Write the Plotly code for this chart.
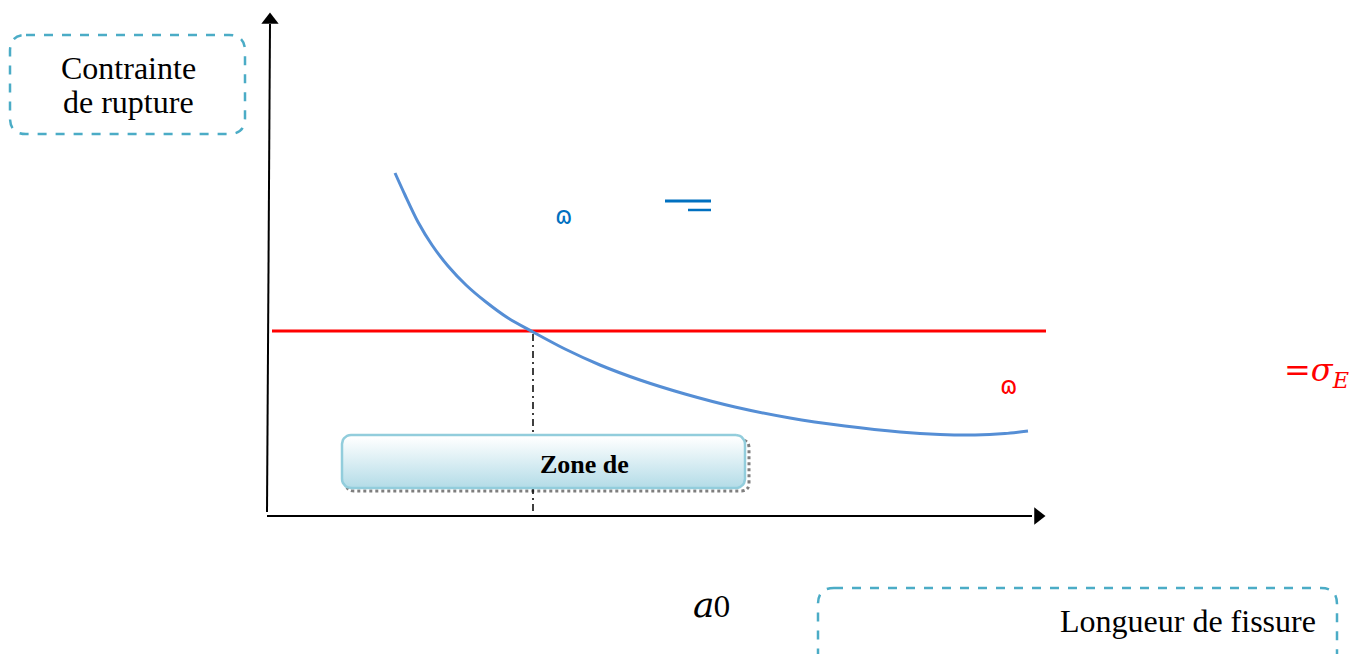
import numpy as np
import plotly.graph_objects as go

# ---- data (in figure pixel units) ----
crack_length = [395, 405, 418, 432, 448, 466, 486, 508, 533, 565, 600, 640, 685, 735, 790, 845, 900, 940, 975, 1005, 1028]
rupture_stress = [173, 195, 222, 245, 266, 285, 302, 318, 332, 349, 365, 380, 394, 407, 418, 426, 432, 434.5, 435, 433.5, 431]
sigma_E_level = 331
a0_value = 533
red_line_x = [272, 1046]

W, H = 1370, 654
OFF = 8  # page body margin
BOX_BLUE = "#4bacc6"

def rrect_path(x0, y0, x1, y1, r):
    return (f"M {x0+r},{y0} L {x1-r},{y0} Q {x1},{y0} {x1},{y0+r} "
            f"L {x1},{y1-r} Q {x1},{y1} {x1-r},{y1} L {x0+r},{y1} "
            f"Q {x0},{y1} {x0},{y1-r} L {x0},{y0+r} Q {x0},{y0} {x0+r},{y0} Z")

def rrect_pts(x0, y0, x1, y1, r, n=8):
    xs, ys = [], []
    corners = [(x1 - r, y0 + r, -90, 0), (x1 - r, y1 - r, 0, 90),
               (x0 + r, y1 - r, 90, 180), (x0 + r, y0 + r, 180, 270)]
    for cx, cy, a0, a1 in corners:
        for t in np.linspace(np.radians(a0), np.radians(a1), n):
            xs.append(cx + r * np.cos(t))
            ys.append(cy + r * np.sin(t))
    xs.append(xs[0]); ys.append(ys[0])
    return xs, ys

fig = go.Figure()

# Zone box (gradient fill)
zx, zy = rrect_pts(342, 435, 745, 488, 9)
fig.add_trace(go.Scatter(x=zx, y=zy, mode="lines", fill="toself",
                         line=dict(color="#92cddc", width=2.5),
                         fillgradient=dict(type="vertical",
                                           colorscale=[[0, "#ffffff"], [1, "#b6dde8"]],
                                           start=437, stop=486),
                         hoverinfo="skip", showlegend=False))

# red horizontal line (sigma_E)
fig.add_trace(go.Scatter(x=red_line_x, y=[sigma_E_level, sigma_E_level], mode="lines",
                         line=dict(color="#ff0000", width=3.2), showlegend=False, hoverinfo="skip"))

# rupture curve
fig.add_trace(go.Scatter(x=crack_length, y=rupture_stress, mode="lines",
                         line=dict(color="#558ed5", width=3, shape="spline", smoothing=0.8),
                         showlegend=False, hoverinfo="skip"))

# arrowheads of axes
fig.add_trace(go.Scatter(x=[270], y=[20], mode="markers",
                         marker=dict(symbol="triangle-up", size=15, color="black"),
                         showlegend=False, hoverinfo="skip"))
fig.add_trace(go.Scatter(x=[1038], y=[516], mode="markers",
                         marker=dict(symbol="triangle-right", size=15, color="black"),
                         showlegend=False, hoverinfo="skip"))

shapes = [
    dict(type="path", path=rrect_path(346, 440, 749, 491, 8), line=dict(color="#7f7f7f", width=3, dash="dot"),
         fillcolor="rgba(0,0,0,0)", layer="below"),
    dict(type="line", x0=267, y0=512, x1=270, y1=24, line=dict(color="black", width=2)),
    dict(type="line", x0=267, y0=516, x1=1032, y1=516, line=dict(color="black", width=2)),
    dict(type="line", x0=a0_value, y0=334, x1=a0_value, y1=518,
         line=dict(color="black", width=1.5, dash="7px,4px,2px,4px"), layer="below"),
    dict(type="path", path=rrect_path(10, 35, 245, 134, 16), line=dict(color=BOX_BLUE, width=2.5, dash="dash")),
    dict(type="path", path=rrect_path(818, 588, 1337, 670, 16), line=dict(color=BOX_BLUE, width=2.5, dash="dash")),
    dict(type="line", x0=665, y0=201, x1=711, y1=201, line=dict(color="#0070c0", width=3)),
    dict(type="line", x0=688, y0=210, x1=711, y1=210, line=dict(color="#0070c0", width=2.5)),
]

serif = "Liberation Serif"
annotations = [
    dict(x=128, y=68, text="Contrainte", showarrow=False,
         font=dict(family=serif, size=32, color="black")),
    dict(x=128, y=102, text="de rupture", showarrow=False,
         font=dict(family=serif, size=32, color="black")),
    dict(x=1318, y=621, text="Longueur de fissure", showarrow=False, xanchor="right",
         font=dict(family=serif, size=32, color="black")),
    dict(x=584, y=464, text="<b>Zone de</b>", showarrow=False,
         font=dict(family=serif, size=26, color="black")),
    dict(x=716, y=604, text="<i>a</i>", showarrow=False, xanchor="right",
         font=dict(family="DejaVu Serif", size=36, color="black")),
    dict(x=711, y=607, text="0", showarrow=False, xanchor="left",
         font=dict(family="DejaVu Serif", size=28, color="black")),
    dict(x=1316, y=372, text="=<i>σ</i><sub><i>E</i></sub>", showarrow=False,
         font=dict(family="DejaVu Serif", size=32, color="#ff0000")),
    dict(x=563, y=216, text="ɷ", showarrow=False,
         font=dict(family="DejaVu Sans", size=24, color="#0070c0")),
    dict(x=1008, y=386, text="ɷ", showarrow=False,
         font=dict(family="DejaVu Sans", size=24, color="#ff0000")),
]

fig.update_layout(
    width=W, height=H, margin=dict(l=0, r=0, t=0, b=0),
    paper_bgcolor="white", plot_bgcolor="white",
    xaxis=dict(range=[OFF, W + OFF], visible=False, fixedrange=True),
    yaxis=dict(range=[H + OFF, OFF], visible=False, fixedrange=True),
    shapes=shapes, annotations=annotations, showlegend=False,
)

fig.write_html("out.html")
